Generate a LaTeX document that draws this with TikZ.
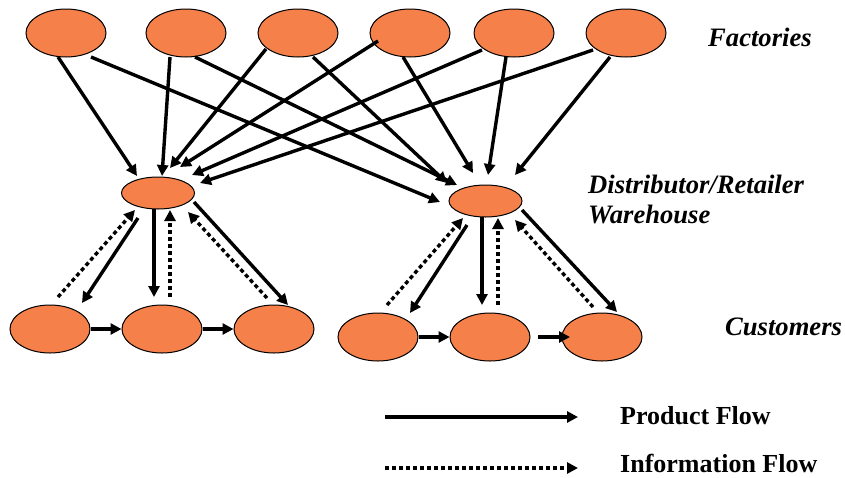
\documentclass[tikz,border=0pt]{standalone}
\usepackage{fontspec}
\setmainfont{Liberation Serif}
\usetikzlibrary{arrows.meta,shapes.geometric,calc}
\definecolor{nodeorange}{RGB}{245,128,74}
\begin{document}
\begin{tikzpicture}[x=1pt,y=-1pt,
  big/.style={ellipse,draw=black,line width=1pt,fill=nodeorange,minimum width=80pt,minimum height=48pt,inner sep=0pt},
  small/.style={ellipse,draw=black,line width=1pt,fill=nodeorange,minimum width=73pt,minimum height=32pt,inner sep=0pt},
  prod/.style={line width=3.4pt,-{Triangle[length=11pt,width=11pt]}},
  info/.style={line width=3.4pt,dash pattern=on 4pt off 3pt,-{Triangle[length=11pt,width=11pt]}},
  lab/.style={font=\bfseries\itshape\fontsize{26.6}{30}\selectfont,anchor=base west,inner sep=0pt},
  leg/.style={font=\bfseries\fontsize{26}{30}\selectfont,anchor=base west,inner sep=0pt}]
\useasboundingbox (0,0) rectangle (845,477);
% factories
\node[big] (F1) at (66,33) {};
\node[big] (F2) at (186,33) {};
\node[big] (F3) at (298,33) {};
\node[big] (F4) at (410,33) {};
\node[big] (F5) at (514,33) {};
\node[big] (F6) at (626,33) {};
% distributors
\node[small] (D1) at (158,193) {};
\node[small] (D2) at (485.5,201) {};
% customers
\node[big] (C1) at (50,329) {};
\node[big] (C2) at (162,329) {};
\node[big] (C3) at (274,329) {};
\node[big] (C4) at (378,337) {};
\node[big] (C5) at (490,337) {};
\node[big] (C6) at (602,337) {};
% factory -> distributor
\draw[prod] ($(F1)+(-8,24)$) -- ($(D1)+(-21,-17)$);
\draw[prod] ($(F1)+(25,24)$) -- ($(D2)+(-45.5,1)$);
\draw[prod] ($(F2)+(-16,24)$) -- ($(D1)+(4,-17)$);
\draw[prod] ($(F2)+(9,24)$) -- ($(D2)+(-28.5,-16)$);
\draw[prod] ($(F3)+(-32,16)$) -- ($(D1)+(12,-25)$);
\draw[prod] ($(F3)+(15,24)$) -- ($(D2)+(-38.5,-18)$);
\draw[prod] ($(F4)+(-32,8)$) -- ($(D1)+(22,-26)$);
\draw[prod] ($(F4)+(-7,24)$) -- ($(D2)+(-12.5,-28)$);
\draw[prod] ($(F5)+(-32,17)$) -- ($(D1)+(34,-18)$);
\draw[prod] ($(F5)+(-8,24)$) -- ($(D2)+(2.5,-26)$);
\draw[prod] ($(F6)+(-33,17)$) -- ($(D1)+(42,-10)$);
\draw[prod] ($(F6)+(-16,24)$) -- ($(D2)+(29.5,-26)$);
% left distributor <-> customers
\draw[prod] ($(D1)+(-20,25)$) -- ($(C1)+(32,-26)$);
\draw[info] ($(C1)+(8,-32)$) -- ($(D1)+(-23,17)$);
\draw[prod] ($(D1)+(-4,16)$) -- ($(C2)+(-8,-32)$);
\draw[info] ($(C2)+(8,-32)$) -- ($(D1)+(12,17)$);
\draw[info] ($(C3)+(-7,-31)$) -- ($(D1)+(30,19)$);
\draw[prod] ($(D1)+(36,9)$) -- ($(C3)+(14,-24)$);
\draw[prod] (C1.east) -- (C2.west);
\draw[prod] (C2.east) -- (C3.west);
% right distributor <-> customers
\draw[info] ($(C4)+(9,-32)$) -- ($(D2)+(-22.5,17)$);
\draw[prod] ($(D2)+(-18.5,24)$) -- ($(C4)+(32,-24)$);
\draw[prod] ($(D2)+(-3.5,16)$) -- ($(C5)+(-8,-32)$);
\draw[info] ($(C5)+(8,-32)$) -- ($(D2)+(12.5,17)$);
\draw[info] ($(C6)+(-9,-30)$) -- ($(D2)+(29.5,19)$);
\draw[prod] ($(D2)+(36.5,9)$) -- ($(C6)+(15,-25)$);
\draw[prod] (C4.east) -- (C5.west);
\draw[prod] ($(C5)+(48,0)$) -- ($(C6)+(-32,0)$);
% labels
\node[lab] (lf) at (708,46) {Factories};
\node[lab] (ld1) at (588,193) {Distributor/Retailer};
\node[lab] (ld2) at (588,223) {Warehouse};
\node[lab] (lc) at (725,335) {Customers};
% legend
\coordinate (LP1) at (385,417);
\coordinate (LP2) at (578,417);
\coordinate (LI1) at (385,468);
\coordinate (LI2) at (578,468);
\draw[prod] (LP1) -- (LP2);
\draw[info] (LI1) -- (LI2);
\node[leg] (lp) at (620,424) {Product Flow};
\node[leg] (li) at (620,472) {Information Flow};
\end{tikzpicture}
\end{document}
